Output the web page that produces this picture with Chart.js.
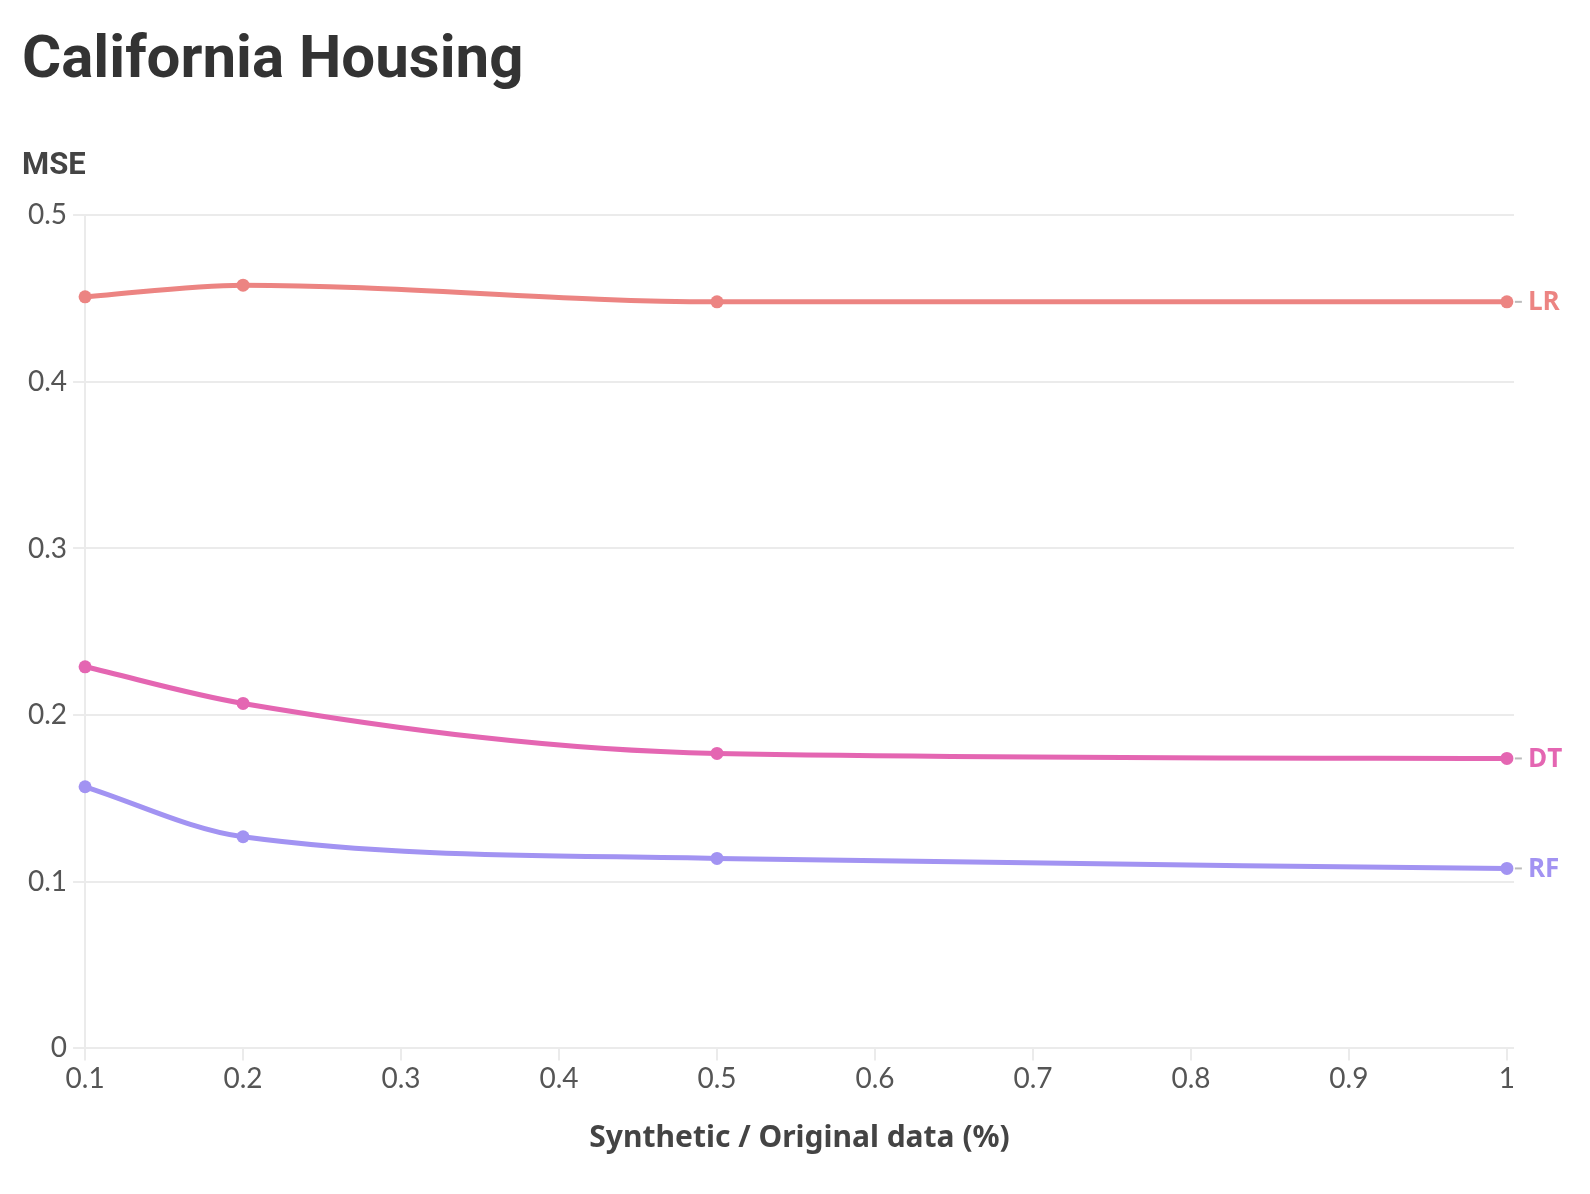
<!DOCTYPE html>
<html lang="en">
<head>
<meta charset="UTF-8">
<title>California Housing</title>
<script src="https://cdn.jsdelivr.net/npm/chart.js"></script>
<style>
  html, body { margin: 0; padding: 0; background: #fff; }
  #wrap { width: 1590px; height: 1194px; }
</style>
</head>
<body>
<div id="wrap"><canvas id="myChart" width="1590" height="1194"></canvas></div>
<script>
// data
const ratios = [0.1, 0.2, 0.5, 1];
const lrMse = [0.451, 0.458, 0.448, 0.448];
const dtMse = [0.229, 0.207, 0.177, 0.174];
const rfMse = [0.157, 0.127, 0.114, 0.108];
const seriesNames = ['LR', 'DT', 'RF'];
const xTicks = [0.1, 0.2, 0.3, 0.4, 0.5, 0.6, 0.7, 0.8, 0.9, 1];
const yTicks = [0, 0.1, 0.2, 0.3, 0.4, 0.5];

const colors = ['#ec8482', '#e466b2', '#a293f2'];

function toPoints(vals) {
    return ratios.map((r, i) => ({ x: r, y: vals[i] }));
}

// draws the LR / DT / RF tags at the end of each line
const endLabels = {
    id: 'endLabels',
    afterDatasetsDraw(chart) {
        const ctx = chart.ctx;
        chart.data.datasets.forEach((ds, i) => {
            const meta = chart.getDatasetMeta(i);
            const last = meta.data[meta.data.length - 1];
            ctx.save();
            ctx.strokeStyle = '#bbbbbb';
            ctx.lineWidth = 2;
            ctx.beginPath();
            ctx.moveTo(last.x + 8, last.y);
            ctx.lineTo(last.x + 15, last.y);
            ctx.stroke();
            ctx.fillStyle = ds.borderColor;
            ctx.font = 'bold 26px "Open Sans"';
            ctx.textBaseline = 'middle';
            ctx.fillText(ds.label, last.x + 21, last.y + 1);
            ctx.restore();
        });
    }
};

const ctx = document.getElementById('myChart').getContext('2d');
const myChart = new Chart(ctx, {
    type: 'line',
    data: {
        datasets: [
            { label: seriesNames[0], data: toPoints(lrMse) },
            { label: seriesNames[1], data: toPoints(dtMse) },
            { label: seriesNames[2], data: toPoints(rfMse) }
        ].map((d, i) => Object.assign(d, {
            borderColor: colors[i],
            backgroundColor: colors[i],
            borderWidth: 5,
            pointRadius: 6.5,
            pointBorderWidth: 0,
            cubicInterpolationMode: 'monotone',
            fill: false,
            clip: false
        }))
    },
    options: {
        responsive: false,
        animation: false,
        layout: { padding: { left: 22, right: 76, top: 26, bottom: 34 } },
        plugins: {
            legend: { display: false },
            tooltip: { enabled: false },
            title: {
                display: true,
                text: 'California Housing',
                align: 'start',
                color: '#333333',
                font: { family: 'Roboto', size: 60, weight: 'bold' },
                padding: { top: 0, bottom: 50 }
            },
            subtitle: {
                display: true,
                text: 'MSE',
                align: 'start',
                color: '#444444',
                font: { family: 'Roboto', size: 31, weight: 'bold' },
                padding: { top: 0, bottom: 30 }
            }
        },
        scales: {
            x: {
                type: 'linear',
                min: 0.1,
                max: 1.0045,
                afterBuildTicks: (scale) => { scale.ticks = xTicks.map(v => ({ value: v })); },
                grid: { drawOnChartArea: false, color: '#ebebeb', lineWidth: 2, tickLength: 12 },
                border: { display: false },
                ticks: {
                    color: '#555555',
                    font: { family: 'Lato', size: 28 },
                    padding: 2,
                    maxRotation: 0,
                    callback: (v) => String(v)
                },
                title: {
                    display: true,
                    text: 'Synthetic / Original data (%)',
                    color: '#444444',
                    font: { family: 'Noto Sans', size: 30, weight: 'bold' },
                    padding: { top: 22 }
                }
            },
            y: {
                min: 0,
                max: 0.5,
                afterBuildTicks: (scale) => { scale.ticks = yTicks.map(v => ({ value: v })); },
                grid: { color: '#ebebeb', lineWidth: 2, tickLength: 12 },
                border: { display: true, color: '#ebebeb', width: 2 },
                ticks: {
                    color: '#555555',
                    font: { family: 'Lato', size: 28 },
                    padding: 6,
                    callback: (v) => String(v)
                }
            }
        }
    },
    plugins: [endLabels]
});
</script>
</body>
</html>
